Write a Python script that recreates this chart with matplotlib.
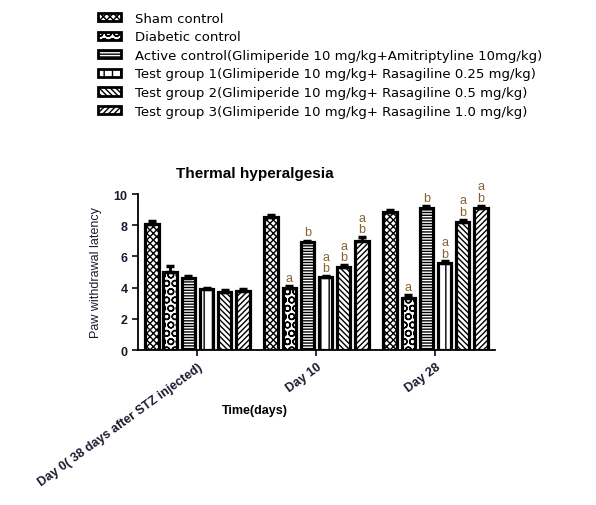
import numpy as np
import matplotlib
matplotlib.use("Agg")
import matplotlib.pyplot as plt
from matplotlib.patches import Patch

plt.rcParams['font.family'] = ['Liberation Sans', 'DejaVu Sans']
plt.rcParams['hatch.linewidth'] = 1.0

# dati
giorni = ["Day 0( 38 days after STZ injected)", "Day 10", "Day 28"]
gruppi = ["Sham control",
          "Diabetic control",
          "Active control(Glimiperide 10 mg/kg+Amitriptyline 10mg/kg)",
          "Test group 1(Glimiperide 10 mg/kg+ Rasagiline 0.25 mg/kg)",
          "Test group 2(Glimiperide 10 mg/kg+ Rasagiline 0.5 mg/kg)",
          "Test group 3(Glimiperide 10 mg/kg+ Rasagiline 1.0 mg/kg)"]

# medie per gruppo (righe) e giorno (colonne)
medie = [[8.1, 8.55, 8.85],
         [5.0, 4.0, 3.35],
         [4.6, 6.9, 9.1],
         [3.9, 4.65, 5.55],
         [3.75, 5.3, 8.2],
         [3.8, 7.0, 9.1]]
errori = [[0.2, 0.1, 0.1],
          [0.4, 0.1, 0.15],
          [0.15, 0.1, 0.1],
          [0.1, 0.1, 0.15],
          [0.1, 0.15, 0.15],
          [0.1, 0.25, 0.15]]
# lettere di significatività
lettere = [["", "", ""],
           ["", "a", "a"],
           ["", "b", "b"],
           ["", "ab", "ab"],
           ["", "ab", "ab"],
           ["", "ab", "ab"]]

tratteggi = ["xxxxx", "OO", "------", "||", "\\\\\\\\\\\\", "//////"]

fig = plt.figure(figsize=(5.96, 5.06), dpi=100)
ax = fig.add_axes([0.2315, 0.3063, 0.599, 0.3083])

x = np.arange(len(giorni))
passo = 0.152
larg = 0.115
col_lettere = "#8a6030"

for i in range(len(gruppi)):
    pos = x + (i - 2.5) * passo
    ax.bar(pos, medie[i], width=larg, facecolor="white", edgecolor="black",
           linewidth=2.3, hatch=tratteggi[i], zorder=2)
    ax.errorbar(pos, medie[i], yerr=[np.zeros(3), errori[i]], fmt="none",
                ecolor="black", elinewidth=2, capsize=3, capthick=2.5, zorder=3)
    for j in range(len(giorni)):
        s = lettere[i][j]
        top = medie[i][j] + errori[i][j]
        if s == "a" or s == "b":
            ax.text(pos[j], top + 0.15, s, ha="center", va="bottom",
                    fontsize=9, color=col_lettere)
        elif s == "ab":
            ax.text(pos[j], top + 0.1, "b", ha="center", va="bottom",
                    fontsize=9, color=col_lettere)
            ax.text(pos[j], top + 0.85, "a", ha="center", va="bottom",
                    fontsize=9, color=col_lettere)

ax.set_xlim(-0.5, 2.5)
ax.set_ylim(0, 10)
ax.set_yticks([0, 2, 4, 6, 8, 10])
ax.set_xticks(x)
ax.set_xticklabels(giorni, rotation=36, ha="right", rotation_mode="anchor",
                   fontsize=9, fontweight="bold")
for t in ax.get_yticklabels():
    t.set_fontweight("bold")
    t.set_fontsize(9)
ax.spines["top"].set_visible(False)
ax.spines["right"].set_visible(False)
ax.spines["left"].set_linewidth(1.3)
ax.spines["bottom"].set_linewidth(1.3)
ax.tick_params(length=4, width=1.3, colors="#1a1a30")
ax.set_ylabel("Paw withdrawal latency", fontsize=9, color="#1a1a30", labelpad=8)

fig.text(0.428, 0.657, "Thermal hyperalgesia", ha="center", va="center",
         fontsize=11, fontweight="bold")
fig.text(0.428, 0.188, "Time(days)", ha="center", va="center",
         fontsize=9, fontweight="bold")

maniglie = [Patch(facecolor="white", edgecolor="black", linewidth=2,
                  hatch=tratteggi[i]) for i in range(len(gruppi))]
fig.legend(maniglie, gruppi, loc="upper left", bbox_to_anchor=(0.156, 0.985),
           frameon=False, prop={"family": "DejaVu Sans", "size": 9.5},
           handlelength=1.7, handleheight=0.6, handletextpad=1.1,
           labelspacing=0.42, borderaxespad=0)

fig.savefig("out.png", dpi=100)
